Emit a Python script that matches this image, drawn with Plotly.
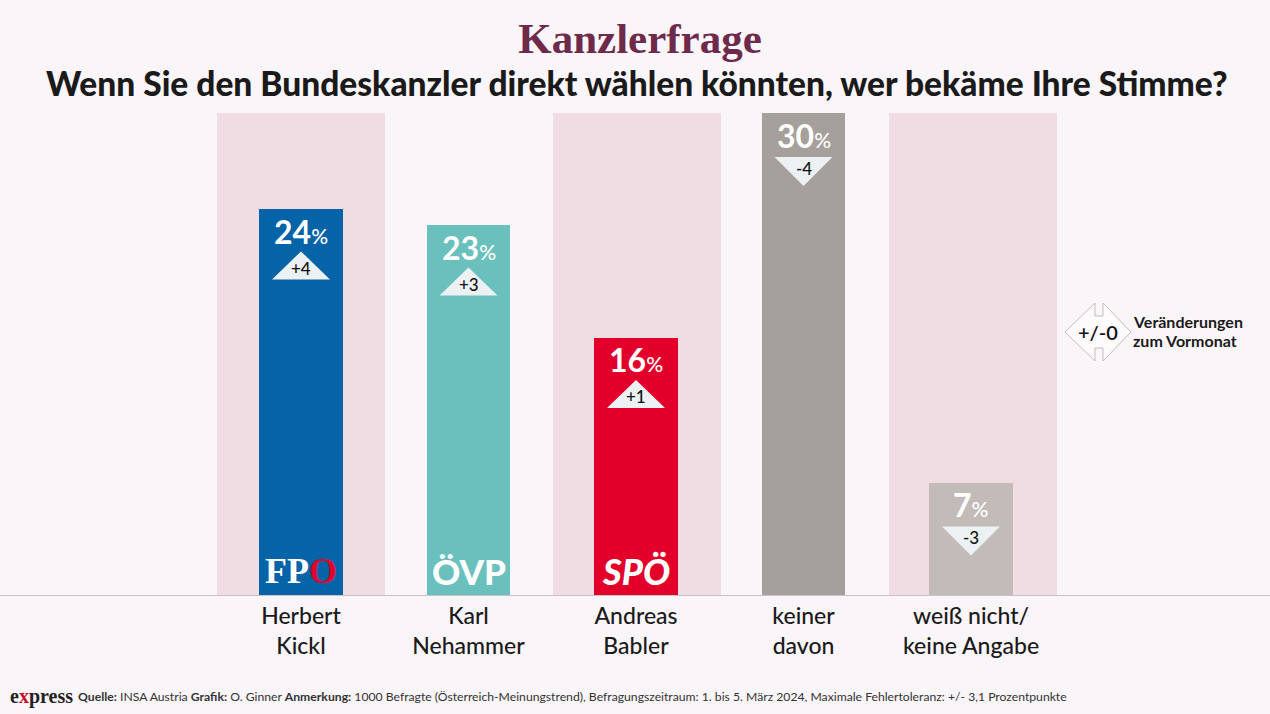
import plotly.graph_objects as go

W, H = 1270, 714
BASE_Y, TOP_Y = 595, 113
BG = "#FAF5F8"

categories = ["Herbert<br>Kickl", "Karl<br>Nehammer", "Andreas<br>Babler", "keiner<br>davon", "weiß nicht/<br>keine Angabe"]
values = [24, 23, 16, 30, 7]
changes = ["+4", "+3", "+1", "-4", "-3"]
bar_colors = ["#0563A8", "#69C0BC", "#E2002B", "#A5A09C", "#C2BBB8"]
band_cats = [0, 2, 4]
band_values = [30, 30, 30]
logos = ['FP<span style="color:#E2002B">O</span>', "ÖVP", "<i>SPÖ</i>"]
logo_fonts = ["Liberation Serif", "Lato", "Lato"]
logo_sizes = [36, 35, 36]
logo_weights = [700, 900, 900]
xs = list(range(len(values)))

def py(p):
    return 1 - (p - TOP_Y) / (BASE_Y - TOP_Y)

fig = go.Figure()
fig.add_bar(x=band_cats, y=band_values, width=[1.003] * 3, offset=[-0.5015, -0.4985, -0.4925],
            marker_color="#F0DDE4", marker_line_width=0, hoverinfo="skip", showlegend=False)
fig.add_bar(x=xs, y=values, width=[0.5] * 5, marker_color=bar_colors, marker_line_width=0, showlegend=False)

shapes, ann = [], []
for i, (v, c) in enumerate(zip(values, changes)):
    if c.startswith("+"):
        path = "M -29 -70 L 29 -70 L 0 -42 Z"
        shift = -59
    else:
        path = "M -29 -44 L 29 -44 L 0 -73 Z"
        shift = -55
    shapes.append(dict(type="path", xref="x", yref="y", xsizemode="pixel", ysizemode="pixel",
                       xanchor=i, yanchor=v, path=path, fillcolor="#ECF1F4", line_width=0, layer="above"))
    ann.append(dict(x=i, y=v, xref="x", yref="y", text=c, showarrow=False, yshift=shift, yanchor="middle",
                    font=dict(family="Lato", size=17, weight=500, color="#111111")))
    ann.append(dict(x=i, y=v, xref="x", yref="y", showarrow=False, yshift=-22, yanchor="middle",
                    text=f'<b>{v}</b><span style="font-size:21px">%</span>',
                    font=dict(family="Lato", size=32, weight=500, color="#FFFFFF")))
for i, (t, f, s, w) in enumerate(zip(logos, logo_fonts, logo_sizes, logo_weights)):
    ann.append(dict(x=i, y=0, xref="x", yref="y", text=t, showarrow=False, yanchor="middle", yshift=24,
                    font=dict(family=f, size=s, weight=w, color="#FFFFFF")))

def text(x, ypx, t, size, color="#1A1A1A", family="Lato", xanchor="center", weight=400):
    ann.append(dict(x=x, xref="paper", y=py(ypx), yref="paper", text=t, showarrow=False, xanchor=xanchor,
                    yanchor="middle", align="left" if xanchor == "left" else "center",
                    font=dict(family=family, size=size, color=color, weight=weight)))

text(636.5/W, 83, "Wenn Sie den Bundeskanzler direkt wählen könnten, wer bekäme Ihre Stimme?", 33.5, weight=900)
text(1131/W, 321, "<b>Veränderungen</b>", 16, xanchor="left")
text(1131/W, 340, "<b>zum Vormonat</b>", 16, xanchor="left")
text(1098/W, 332, "+/-0", 20, "#111111", weight=600)
text(8/W, 696, '<b>e<span style="color:#C8102E">x</span>press</b>', 20, "#222222", "Liberation Serif", "left")
text(76/W, 696, "<b>Quelle:</b> INSA Austria <b>Grafik:</b> O. Ginner <b>Anmerkung:</b> 1000 Befragte (Österreich-Meinungstrend), Befragungszeitraum: 1. bis 5. März 2024, Maximale Fehlertoleranz: +/- 3,1 Prozentpunkte", 12.2, "#333333", xanchor="left")

def pfx(x): return x / W
diamond = [(1065,332),(1095,303),(1095,316),(1103,316),(1103,303),(1131,332),(1103,361),(1103,348),(1095,348),(1095,361)]
shapes.append(dict(type="path", xref="paper", yref="paper",
    path="M " + " L ".join(f"{pfx(x):.5f} {py(y):.5f}" for x, y in diamond) + " Z",
    fillcolor="#FDFBFC", line=dict(color="#C4BCC0", width=1), layer="above"))

unit = 167.5
x0 = 301
fig.update_layout(
    width=W, height=H, autosize=False, barmode="overlay", bargap=0,
    paper_bgcolor=BG, plot_bgcolor=BG,
    margin=dict(l=0, r=0, t=TOP_Y, b=H - BASE_Y),
    title=dict(text="<b>Kanzlerfrage</b>", x=640/W, xanchor="center", y=1 - 38/H, yanchor="middle",
               font=dict(family="Liberation Serif", size=43, color="#6E2A4A")),
    xaxis=dict(range=[-x0/unit, (W - x0)/unit], tickmode="array", tickvals=xs, ticktext=categories,
               tickfont=dict(family="Lato", size=23, weight=500, color="#1A1A1A"), ticks="", showgrid=False, zeroline=False,
               ticklabelstandoff=0, showline=True, linecolor="#C9C2C6", linewidth=1, fixedrange=True),
    yaxis=dict(range=[0, 30], visible=False, fixedrange=True),
    shapes=shapes, annotations=ann, font=dict(family="Lato"),
)
fig.write_html("out.html", config={"displayModeBar": False},
               post_script="document.body.style.margin='0';document.body.style.background='%s';" % BG)
